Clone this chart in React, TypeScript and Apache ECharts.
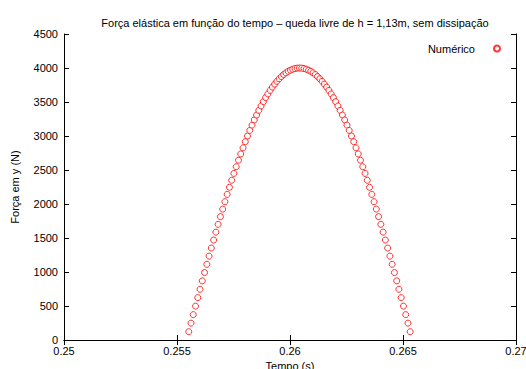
import React, { useEffect, useRef } from "react";
import * as echarts from "echarts";

// Time samples (s) of the simulated contact phase
const tempo: number[] = [
  0.25552, 0.25562, 0.25572, 0.25582, 0.25592, 0.25602, 0.25612, 0.25622, 0.25632, 0.25642,
  0.25652, 0.25662, 0.25672, 0.25682, 0.25692, 0.25702, 0.25712, 0.25722, 0.25732, 0.25742,
  0.25752, 0.25762, 0.25772, 0.25782, 0.25792, 0.25802, 0.25812, 0.25822, 0.25832, 0.25842,
  0.25852, 0.25862, 0.25872, 0.25882, 0.25892, 0.25902, 0.25912, 0.25922, 0.25932, 0.25942,
  0.25952, 0.25962, 0.25972, 0.25982, 0.25992, 0.26002, 0.26012, 0.26022, 0.26032, 0.26042,
  0.26052, 0.26062, 0.26072, 0.26082, 0.26092, 0.26102, 0.26112, 0.26122, 0.26132, 0.26142,
  0.26152, 0.26162, 0.26172, 0.26182, 0.26192, 0.26202, 0.26212, 0.26222, 0.26232, 0.26242,
  0.26252, 0.26262, 0.26272, 0.26282, 0.26292, 0.26302, 0.26312, 0.26322, 0.26332, 0.26342,
  0.26352, 0.26362, 0.26372, 0.26382, 0.26392, 0.26402, 0.26412, 0.26422, 0.26432, 0.26442,
  0.26452, 0.26462, 0.26472, 0.26482, 0.26492, 0.26502, 0.26512, 0.26522, 0.26532,
];

// Elastic force in y (N) at each sample
const forcaY: number[] = [
  122, 248, 373, 498, 623, 746, 870, 992, 1113, 1233,
  1352, 1470, 1586, 1701, 1814, 1925, 2034, 2141, 2246, 2349,
  2450, 2548, 2644, 2736, 2826, 2916, 3000, 3082, 3160, 3236,
  3308, 3377, 3442, 3505, 3564, 3619, 3671, 3719, 3763, 3804,
  3841, 3874, 3904, 3929, 3951, 3968, 3982, 3992, 3998, 4000,
  3998, 3992, 3982, 3968, 3951, 3929, 3904, 3874, 3841, 3804,
  3763, 3719, 3671, 3619, 3564, 3505, 3442, 3377, 3308, 3236,
  3160, 3082, 3000, 2916, 2826, 2736, 2644, 2548, 2450, 2349,
  2246, 2141, 2034, 1925, 1814, 1701, 1586, 1470, 1352, 1233,
  1113, 992, 870, 746, 623, 498, 373, 248, 122,
];

const FONT = "'Liberation Sans', Arial, Helvetica, sans-serif";
const INK = "#000";

export default function App() {
  const ref = useRef<HTMLDivElement>(null);

  useEffect(() => {
    if (!ref.current) return;
    const chart = echarts.init(ref.current, undefined, { renderer: "svg" });

    const pontos = tempo.map((t, i) => [t, forcaY[i]]);

    const tickStyle = { show: true, inside: true, length: 5, lineStyle: { color: INK, width: 1 } };
    const lineStyle = { show: true, lineStyle: { color: INK, width: 1 } };

    chart.setOption({
      animation: false,
      backgroundColor: "#fff",
      textStyle: { fontFamily: FONT },
      title: {
        text: "Força elástica em função do tempo – queda livre de h = 1,13m, sem dissipação",
        left: 290,
        top: 12,
        textAlign: "center",
        textStyle: { fontFamily: FONT, fontSize: 11, fontWeight: "normal", color: INK },
      },
      legend: {
        right: 20,
        top: 38,
        align: "right",
        itemWidth: 6,
        itemHeight: 6,
        textStyle: { fontFamily: FONT, fontSize: 11, color: INK, padding: [0, 14, 0, 0] },
        data: ["Numérico"],
      },
      grid: {
        left: 64,
        right: 10,
        top: 34,
        bottom: 29,
        containLabel: false,
        outerBoundsMode: "none",
      },
      xAxis: [
        {
          type: "value",
          min: 0.25,
          max: 0.27,
          interval: 0.005,
          name: "Tempo (s)",
          nameLocation: "middle",
          nameGap: 20,
          nameTextStyle: { fontFamily: FONT, fontSize: 11, color: INK },
          axisLine: lineStyle,
          axisTick: tickStyle,
          splitLine: { show: false },
          axisLabel: {
            margin: 5,
            fontFamily: FONT,
            fontSize: 11,
            color: INK,
            formatter: (v: number) => String(+v.toFixed(3)),
          },
        },
        {
          type: "value",
          position: "top",
          min: 0.25,
          max: 0.27,
          interval: 0.005,
          axisLine: lineStyle,
          axisTick: tickStyle,
          axisLabel: { show: false },
          splitLine: { show: false },
        },
      ],
      yAxis: [
        {
          type: "value",
          min: 0,
          max: 4500,
          interval: 500,
          name: "Força em y (N)",
          nameLocation: "middle",
          nameGap: 44,
          nameTextStyle: { fontFamily: FONT, fontSize: 11, color: INK },
          axisLine: lineStyle,
          axisTick: tickStyle,
          splitLine: { show: false },
          axisLabel: {
            margin: 6,
            fontFamily: FONT,
            fontSize: 11,
            color: INK,
            formatter: (v: number) => String(v),
          },
        },
        {
          type: "value",
          position: "right",
          min: 0,
          max: 4500,
          interval: 500,
          axisLine: lineStyle,
          axisTick: tickStyle,
          axisLabel: { show: false },
          splitLine: { show: false },
        },
      ],
      series: [
        {
          name: "Numérico",
          type: "scatter",
          data: pontos,
          symbol: "circle",
          symbolSize: 6,
          itemStyle: { color: "#fff", borderColor: "#ff0000", borderWidth: 1 },
        },
      ],
    });

    return () => chart.dispose();
  }, []);

  return (
    <div
      ref={ref}
      style={{ position: "fixed", left: 0, top: 0, width: 526, height: 369 }}
    />
  );
}
